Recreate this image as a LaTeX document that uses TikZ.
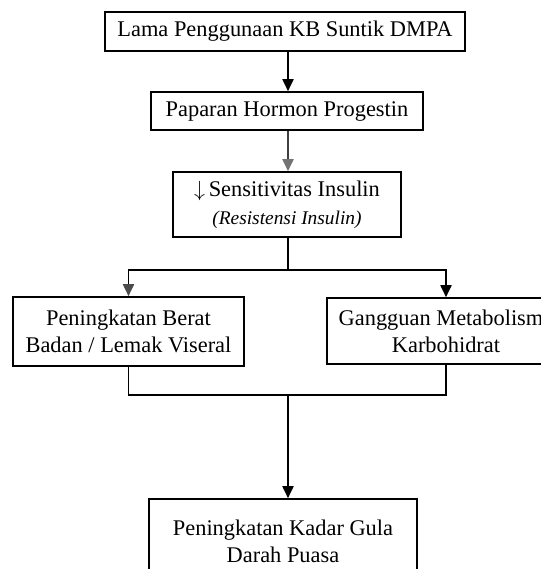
\documentclass[tikz,border=0pt]{standalone}
\usepackage{fontspec}
\setmainfont{Liberation Serif}
\usetikzlibrary{arrows.meta,positioning}
\tikzset{
  kotak/.style={draw, line width=0.8pt, align=center, inner sep=0pt,
    font=\fontsize{11.2}{13.5}\selectfont},
  garis/.style={line width=0.9pt},
  panah/.style={line width=0.9pt, -{Triangle[width=5.5pt,length=6pt]}}
}
\newcommand{\miring}[1]{{\fontsize{9.7}{11}\selectfont\itshape #1}}

\begin{document}
\begin{tikzpicture}[x=0.5pt,y=-0.5pt]
\useasboundingbox (0,0) rectangle (541,569);
\clip (0,0) rectangle (541,569);

% kotak utama
\node[kotak, minimum width=180pt, minimum height=19.5pt] (lama) at (285,31.5)
  {Lama Penggunaan KB Suntik DMPA};
\node[kotak, minimum width=136pt, minimum height=19pt] (paparan) at (287,111)
  {Paparan Hormon Progestin};
\node[kotak, minimum width=114pt, minimum height=32.5pt] (sensitif) at (287,204.5)
  {$\downarrow$\,Sensitivitas Insulin\\[0.5pt]\miring{(Resistensi Insulin)}};

% dua cabang
\node[kotak, minimum width=115.5pt, minimum height=34.5pt] (berat) at (128.5,331.5)
  {Peningkatan Berat\\Badan / Lemak Viseral};
\node[kotak, minimum width=119pt, minimum height=33pt] (karbo) at (446,331)
  {Gangguan Metabolisme\\Karbohidrat};

% hasil
\node[kotak, minimum width=134pt, minimum height=42pt] (gula) at (283,541)
  {Peningkatan Kadar Gula\\Darah Puasa};

\coordinate (cabang) at (288,270);
\coordinate (gabung) at (288,395);

\draw[panah] (lama.south -| cabang) -- (paparan.north -| cabang);
\draw[panah, black!75, -{Triangle[width=5.5pt,length=6pt,color=black!55]}]
  (paparan.south -| cabang) -- (sensitif.north -| cabang);

\draw[garis] (sensitif.south -| cabang) -- (cabang);
\draw[panah, -{Triangle[width=5.5pt,length=6pt,color=black!70]}] (cabang) -| (berat.north);
\draw[panah] (cabang) -| (karbo.north);

\draw[garis] (berat.south) |- (gabung);
\draw[garis] (karbo.south) |- (gabung);
\draw[panah] (gabung) -- (gabung |- gula.north);

\end{tikzpicture}
\end{document}
